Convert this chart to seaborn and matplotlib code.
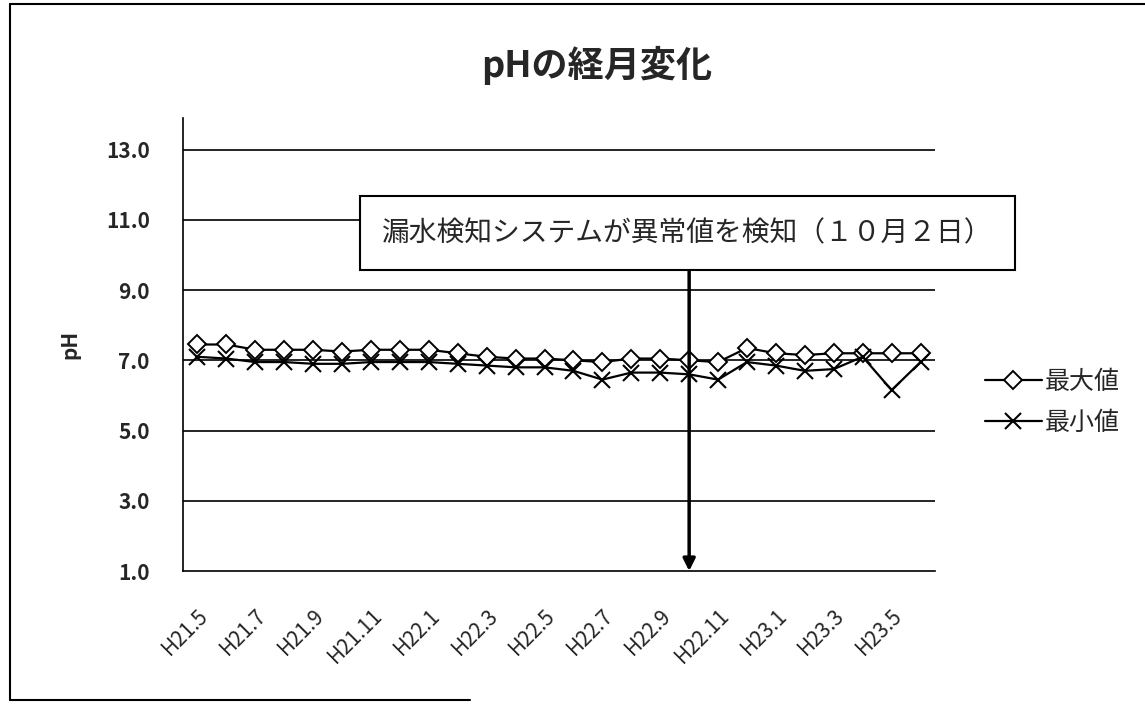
import numpy as np
import pandas as pd
import matplotlib
matplotlib.use("Agg")
import matplotlib.pyplot as plt
import seaborn as sns

# Données
months = ["H21.5", "H21.6", "H21.7", "H21.8", "H21.9", "H21.10", "H21.11", "H21.12",
          "H22.1", "H22.2", "H22.3", "H22.4", "H22.5", "H22.6", "H22.7", "H22.8",
          "H22.9", "H22.10", "H22.11", "H22.12", "H23.1", "H23.2", "H23.3", "H23.4",
          "H23.5", "H23.6"]
ph_max = [7.45, 7.45, 7.3, 7.3, 7.3, 7.25, 7.3, 7.3, 7.3, 7.2, 7.1, 7.05, 7.05,
          7.0, 6.95, 7.05, 7.05, 7.0, 6.95, 7.35, 7.2, 7.15, 7.2, 7.2, 7.2, 7.2]
ph_min = [7.1, 7.05, 6.95, 6.95, 6.9, 6.9, 6.95, 6.95, 6.95, 6.9, 6.85, 6.8, 6.8,
          6.7, 6.45, 6.65, 6.65, 6.6, 6.45, 6.95, 6.85, 6.7, 6.75, 7.1, 6.15, 6.95]
yticks = [1.0, 3.0, 5.0, 7.0, 9.0, 11.0, 13.0]
event_idx = 17
event_text = "漏水検知システムが異常値を検知（１０月２日）"

df = pd.DataFrame({"x": np.arange(len(months)), "最大値": ph_max, "最小値": ph_min})

sns.set_style("white")
plt.rcParams['font.family'] = ['Noto Sans CJK JP', 'DejaVu Sans']

fig = plt.figure(figsize=(11.45, 7.06), dpi=100)
ax = fig.add_axes([183/1145, 1 - 571/706, (935-183)/1145, (571-118)/706])

# Courbes
sns.lineplot(data=df, x="x", y="最大値", ax=ax, color="black", lw=1.6,
             marker="D", markersize=9.5, markerfacecolor="white",
             markeredgecolor="black", markeredgewidth=1.4, label="最大値")
sns.lineplot(data=df, x="x", y="最小値", ax=ax, color="black", lw=1.6,
             marker="x", markersize=11, markeredgecolor="black",
             markeredgewidth=1.5, label="最小値")

ax.set_xlim(-0.5, len(months) - 0.5)
ax.set_ylim(1.0, 13.9)
ax.set_yticks(yticks)
ax.set_yticklabels([f"{v:.1f}" for v in yticks], fontsize=15, fontweight="bold")
for v in yticks[1:]:
    ax.axhline(v, color="black", lw=1.2, zorder=0)

ax.set_xticks(range(0, len(months), 2))
ax.set_xticklabels(months[::2], rotation=45, ha="right", rotation_mode="anchor", fontsize=15)
ax.tick_params(axis="x", length=0, pad=24)
ax.tick_params(axis="y", length=0, pad=24)

ax.set_xlabel("")
ax.set_ylabel("pH", fontsize=15, fontweight="bold", labelpad=18)

for side in ["top", "right"]:
    ax.spines[side].set_visible(False)
ax.spines["left"].set_color("black")
ax.spines["left"].set_linewidth(1.2)
ax.spines["bottom"].set_color("black")
ax.spines["bottom"].set_linewidth(1.2)

# Annotation avec flèche
ax.annotate("", xy=(event_idx, 1.0), xytext=(event_idx, 9.59),
            arrowprops=dict(arrowstyle="-|>", lw=2.5, color="black", mutation_scale=18,
                            shrinkA=0, shrinkB=0))
ax.text(16.93, 10.63, event_text, ha="center", va="center", fontsize=20,
        clip_on=False,
        bbox=dict(boxstyle="square,pad=0.8", facecolor="white", edgecolor="black", lw=1.5))

# Légende
leg = ax.legend(loc="center left", bbox_to_anchor=(1.066, 0.372), frameon=False,
                fontsize=18, handlelength=2.3, handletextpad=0.1, labelspacing=0.6,
                borderaxespad=0, borderpad=0)

fig.suptitle("pHの経月変化", x=597/1145, y=1 - 65/706, va="center", fontsize=26, fontweight="bold")

# Cadre extérieur
fig.add_artist(plt.Line2D([10/1145, 10/1145], [1 - 4/706, 1 - 700/706], color="black", lw=1.5))
fig.add_artist(plt.Line2D([10/1145, 1], [1 - 4/706, 1 - 4/706], color="black", lw=1.5))
fig.add_artist(plt.Line2D([10/1145, 470/1145], [1 - 700/706, 1 - 700/706], color="black", lw=1.5))

fig.savefig("out.png", dpi=100)
